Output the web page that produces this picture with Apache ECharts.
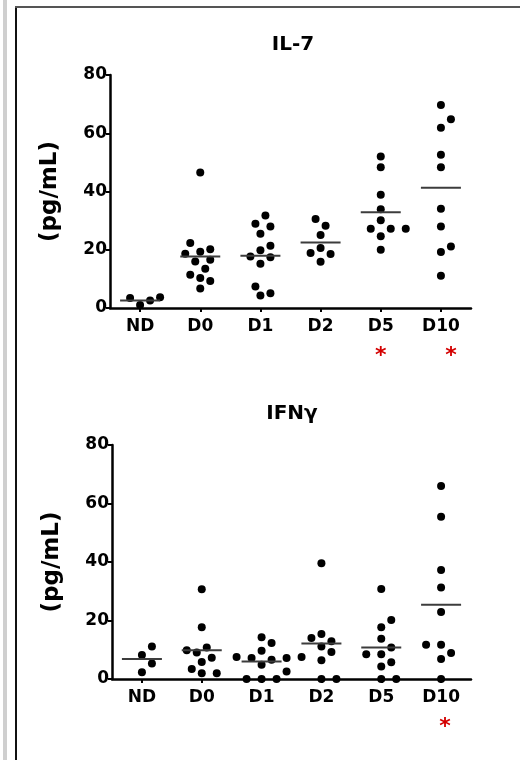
<!DOCTYPE html>
<html><head><meta charset="utf-8">
<script src="https://cdn.jsdelivr.net/npm/echarts@6/dist/echarts.min.js"></script>
<style>html,body{margin:0;padding:0;background:#fff}#c{width:520px;height:760px}</style>
</head><body><div id="c"></div>
<script>
// ---- data ----
const categories = ['ND', 'D0', 'D1', 'D2', 'D5', 'D10'];
const yTicks = [0, 20, 40, 60, 80];

const il7Title = 'IL-7';
const il7Points = [
  [3.4, 1.0, 2.6, 3.7],
  [46.5, 22.3, 20.2, 19.3, 18.6, 16.6, 16.0, 13.5, 11.4, 10.3, 9.3, 6.7],
  [31.8, 28.9, 28.0, 25.5, 21.4, 19.8, 17.7, 17.4, 15.2, 7.4, 5.1, 4.3],
  [30.6, 28.2, 25.1, 20.6, 18.9, 18.5, 15.9],
  [52.0, 48.3, 38.9, 33.9, 30.1, 27.2, 27.2, 27.2, 24.6, 20.0],
  [69.7, 64.8, 61.9, 52.6, 48.3, 34.1, 28.0, 21.1, 19.2, 11.1]
];
const il7Medians = [2.6, 17.7, 17.9, 22.5, 32.9, 41.3];
const il7Significant = ['D5', 'D10'];

const ifnTitle = 'IFNγ';
const ifnPoints = [
  [11.1, 8.2, 5.3, 2.3],
  [30.7, 17.7, 10.8, 9.8, 9.1, 7.3, 5.8, 3.4, 2.0, 2.0],
  [14.3, 12.3, 9.7, 7.5, 7.5, 7.2, 7.2, 6.6, 4.9, 2.6, 0, 0, 0],
  [39.6, 15.4, 14.0, 12.9, 11.1, 9.2, 6.4, 0, 0],
  [30.8, 20.2, 17.7, 13.8, 10.8, 8.5, 8.5, 5.7, 4.3, 0, 0],
  [66.0, 55.5, 37.3, 31.3, 22.9, 11.7, 11.7, 8.9, 6.8, 0]
];
const ifnMedians = [6.8, 9.8, 6.0, 12.1, 10.8, 25.4];
const ifnSignificant = ['D10'];

const yName = '(pg/mL)';

// ---- layout / style ----
const FONT = '"DejaVu Sans", sans-serif';
const panels = [
  { title: il7Title, pts: il7Points, med: il7Medians, sig: il7Significant,
    grid: { left: 110, top: 75, width: 361, height: 233 }, titleXY: [293, 45], starPad: 20 },
  { title: ifnTitle, pts: ifnPoints, med: ifnMedians, sig: ifnSignificant,
    grid: { left: 112, top: 445, width: 359, height: 234 }, titleXY: [292, 414], starPad: 8 }
];
const DOT = 8;

// simple beeswarm: horizontal pixel offsets so dots do not overlap
function swarm(values, pxPerUnit) {
  const order = values.map((v, i) => i).sort((a, b) => values[a] - values[b]);
  const placed = [];
  const offs = new Array(values.length).fill(0);
  const step = 5, minD = 10.2;
  const cands = [0];
  for (let k = 1; k < 12; k++) { cands.push(k * step, -k * step); }
  order.forEach(i => {
    const y = values[i] * pxPerUnit;
    for (const dx of cands) {
      let ok = true;
      for (const p of placed) {
        const ddx = dx - p.x, ddy = y - p.y;
        if (ddx * ddx + ddy * ddy < minD * minD) { ok = false; break; }
      }
      if (ok) { offs[i] = dx; placed.push({ x: dx, y: y }); break; }
    }
  });
  return offs;
}

const grids = [], xAxes = [], yAxes = [], series = [], graphics = [];
panels.forEach((p, pi) => {
  grids.push(Object.assign({ containLabel: false }, p.grid));
  const sig = p.sig;
  xAxes.push({
    type: 'category', gridIndex: pi, data: categories, boundaryGap: true,
    axisLine: { lineStyle: { color: '#000', width: 2.5 } },
    axisTick: { show: true, alignWithLabel: true, length: 4, lineStyle: { color: '#000', width: 2 } },
    axisLabel: {
      margin: 9, color: '#000', fontFamily: FONT, fontWeight: 'bold', fontSize: 17, lineHeight: 19,
      interval: 0,
      formatter: v => sig.includes(v) ? v + '\n{' + (v === 'D10' ? 'sr' : 's') + '|*}' : v,
      rich: {
        s: { color: '#d40000', fontSize: 22, fontWeight: 'bold', fontFamily: FONT, lineHeight: 40 },
        sr: { color: '#d40000', fontSize: 22, fontWeight: 'bold', fontFamily: FONT, lineHeight: 40,
              padding: [0, 0, 0, p.starPad] }
      }
    },
    splitLine: { show: false }
  });
  yAxes.push({
    type: 'value', gridIndex: pi, min: yTicks[0], max: yTicks[yTicks.length - 1],
    interval: yTicks[1] - yTicks[0],
    name: yName, nameLocation: 'middle', nameGap: 48,
    nameTextStyle: { fontFamily: FONT, fontWeight: 'bold', fontSize: 23, color: '#000' },
    axisLine: { show: true, lineStyle: { color: '#000', width: 2.5 } },
    axisTick: { show: true, length: 4, lineStyle: { color: '#000', width: 2 } },
    axisLabel: { margin: 3, color: '#000', fontFamily: FONT, fontWeight: 'bold', fontSize: 17 },
    splitLine: { show: false }
  });
  const pxPerUnit = p.grid.height / (yTicks[yTicks.length - 1] - yTicks[0]);
  const data = [];
  p.pts.forEach((vals, ci) => {
    const offs = swarm(vals, pxPerUnit);
    vals.forEach((v, k) => data.push({ value: [ci, v], symbolOffset: [offs[k], 0] }));
  });
  series.push({
    type: 'scatter', xAxisIndex: pi, yAxisIndex: pi, data: data, clip: false,
    symbol: 'circle', symbolSize: DOT, itemStyle: { color: '#000', opacity: 1 }, z: 3, silent: true
  });
  series.push({
    type: 'scatter', xAxisIndex: pi, yAxisIndex: pi, clip: false,
    data: p.med.map((m, ci) => [ci, m]),
    symbol: 'rect', symbolSize: [40, 2], itemStyle: { color: '#3c3c3c', opacity: 1 }, z: 4, silent: true
  });
  graphics.push({
    type: 'text', x: p.titleXY[0], y: p.titleXY[1],
    style: { text: p.title, fontFamily: FONT, fontWeight: 'bold', fontSize: 20, fill: '#000',
             align: 'center', verticalAlign: 'middle' }
  });
});

// frame
graphics.push({ type: 'rect', shape: { x: 3, y: 0, width: 4, height: 760 }, style: { fill: '#cfcfcf' } });
graphics.push({ type: 'rect', shape: { x: 15, y: 6, width: 2, height: 754 }, style: { fill: '#111' } });
graphics.push({ type: 'rect', shape: { x: 15, y: 6, width: 505, height: 2 }, style: { fill: '#555' } });

const chart = echarts.init(document.getElementById('c'), null, { renderer: 'canvas' });
chart.setOption({
  animation: false,
  backgroundColor: '#fff',
  grid: grids, xAxis: xAxes, yAxis: yAxes, series: series, graphic: graphics
});
</script>
</body></html>
